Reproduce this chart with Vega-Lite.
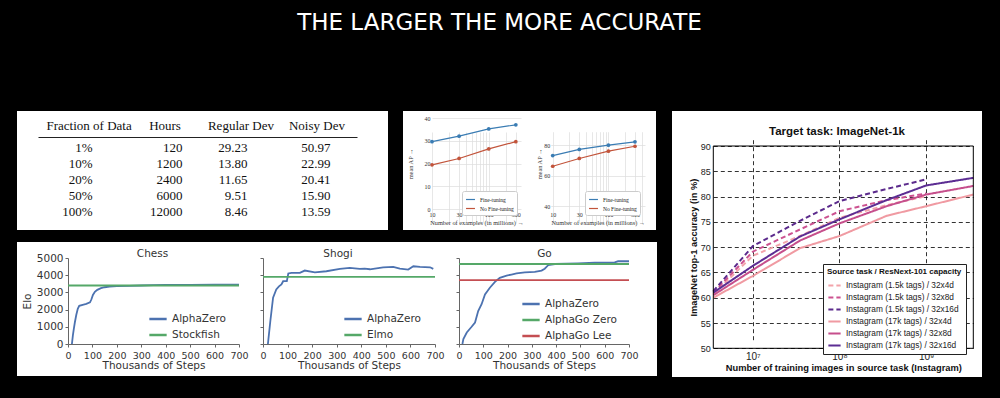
{
  "$schema": "https://vega.github.io/schema/vega-lite/v6.json",
  "background": "black",
  "padding": {"left": 17, "top": 12, "right": 18, "bottom": 22},
  "title": {"text": "THE LARGER THE MORE ACCURATE", "color": "white", "font": "DejaVu Sans", "fontSize": 23, "fontWeight": "normal", "anchor": "middle", "frame": "bounds", "offset": 76},
  "config": {
    "view": {"stroke": null, "fill": "white"},
    "font": "DejaVu Sans",
    "axis": {"labelFont": "DejaVu Sans", "labelFontSize": 10.5, "labelColor": "#333", "titleFont": "DejaVu Sans", "titleFontSize": 10.5, "titleFontWeight": "normal", "titleColor": "#333", "domainColor": "#666", "tickColor": "#666", "tickSize": 3, "grid": false, "labelPadding": 3, "titlePadding": 2, "labelOverlap": false, "labelFlush": false},
    "legend": {"labelFont": "DejaVu Sans", "labelColor": "#333"}
  },
  "resolve": {"scale": {"color": "independent", "strokeDash": "independent"}},
  "spacing": 15,
  "hconcat": [
    {
      "spacing": 12,
      "resolve": {"scale": {"color": "independent", "strokeDash": "independent"}},
      "vconcat": [
        {
          "spacing": 15,
          "resolve": {"scale": {"color": "independent"}},
          "hconcat": [
            {
              "width": 371,
              "height": 119,
              "data": {"values": [
                {"frac": "1%", "hours": "120", "reg": "29.23", "noisy": "50.97"},
                {"frac": "10%", "hours": "1200", "reg": "13.80", "noisy": "22.99"},
                {"frac": "20%", "hours": "2400", "reg": "11.65", "noisy": "20.41"},
                {"frac": "50%", "hours": "6000", "reg": "9.51", "noisy": "15.90"},
                {"frac": "100%", "hours": "12000", "reg": "8.46", "noisy": "13.59"}
              ]},
              "encoding": {"y": {"field": "frac", "type": "ordinal", "sort": null, "axis": null, "scale": {"type": "point", "range": [37, 101], "padding": 0}}},
              "layer": [
                {"mark": {"type": "text", "align": "right", "baseline": "middle", "dx": 9, "font": "Liberation Serif", "fontSize": 13, "color": "#111"},
                 "encoding": {"x": {"datum": "Fraction of Data", "type": "nominal", "scale": {"type": "point", "domain": ["Fraction of Data", "Hours", "Regular Dev", "Noisy Dev"], "range": [21, 340], "padding": 0.6},
                   "axis": {"orient": "top", "offset": -26, "title": null, "ticks": false, "domainColor": "#222", "domainWidth": 1, "labelFont": "Liberation Serif", "labelFontSize": 13, "labelColor": "#111", "labelAngle": 0, "labelPadding": 5, "labelOffset": 5}},
                   "text": {"field": "frac"}}},
                {"mark": {"type": "text", "align": "right", "baseline": "middle", "dx": 23, "font": "Liberation Serif", "fontSize": 13, "color": "#111"},
                 "encoding": {"x": {"datum": "Hours", "type": "nominal"}, "text": {"field": "hours"}}},
                {"mark": {"type": "text", "align": "right", "baseline": "middle", "dx": 12, "font": "Liberation Serif", "fontSize": 13, "color": "#111"},
                 "encoding": {"x": {"datum": "Regular Dev", "type": "nominal"}, "text": {"field": "reg"}}},
                {"mark": {"type": "text", "align": "right", "baseline": "middle", "dx": 19, "font": "Liberation Serif", "fontSize": 13, "color": "#111"},
                 "encoding": {"x": {"datum": "Noisy Dev", "type": "nominal"}, "text": {"field": "noisy"}}}
              ]
            },
            {
              "spacing": 0,
              "resolve": {"scale": {"color": "independent"}},
              "hconcat": [
                {
                  "width": 132,
                  "height": 119,
                  "data": {"values": [
                    {"s": "Fine-tuning", "n": 10, "ap": 29.6}, {"s": "Fine-tuning", "n": 30, "ap": 32.0}, {"s": "Fine-tuning", "n": 100, "ap": 35.2}, {"s": "Fine-tuning", "n": 300, "ap": 37.0},
                    {"s": "No Fine-tuning", "n": 10, "ap": 19.4}, {"s": "No Fine-tuning", "n": 30, "ap": 22.2}, {"s": "No Fine-tuning", "n": 100, "ap": 26.4}, {"s": "No Fine-tuning", "n": 300, "ap": 29.6}
                  ]},
                  "mark": {"type": "line", "point": {"filled": true, "size": 14}, "strokeWidth": 1.2},
                  "encoding": {
                    "x": {"field": "n", "type": "quantitative", "scale": {"type": "log", "domain": [10, 370], "rangeMin": 29, "rangeMax": 118, "nice": false},
                      "axis": {"offset": -21, "values": [10, 20, 30, 40, 50, 60, 70, 80, 90, 100, 200, 300], "format": "d", "labelExpr": "datum.value == 10 || datum.value == 30 || datum.value == 100 || datum.value == 300 ? datum.label : ''", "domain": false, "ticks": false, "grid": true, "gridColor": "#ddd", "gridWidth": 0.7, "labelFont": "Liberation Serif", "labelFontSize": 6, "labelPadding": 2, "title": "Number of examples (in millions) →", "titleFont": "Liberation Serif", "titleFontSize": 6.3, "titlePadding": 2}},
                    "y": {"field": "ap", "type": "quantitative", "scale": {"domain": [0, 40], "rangeMin": 98, "rangeMax": 7, "nice": false, "zero": false},
                      "axis": {"offset": -29, "values": [0, 10, 20, 30, 40], "domain": false, "ticks": false, "grid": true, "gridColor": "#ddd", "gridWidth": 0.7, "labelFont": "Liberation Serif", "labelFontSize": 6, "labelPadding": 2, "title": "mean AP →", "titleFont": "Liberation Serif", "titleFontSize": 6.3, "titlePadding": 11}},
                    "color": {"field": "s", "type": "nominal", "scale": {"domain": ["Fine-tuning", "No Fine-tuning"], "range": ["#3a7cb3", "#c2543b"]},
                      "legend": {"orient": "none", "legendX": 59, "legendY": 80, "title": null, "fillColor": "white", "strokeColor": "#ccc", "padding": 3, "cornerRadius": 2, "labelFont": "Liberation Serif", "labelFontSize": 5.5, "labelColor": "#222", "symbolType": "stroke", "symbolSize": 80, "symbolStrokeWidth": 1.2, "rowPadding": 0}}
                  }
                },
                {
                  "width": 121,
                  "height": 119,
                  "data": {"values": [
                    {"s": "Fine-tuning", "n": 10, "ap": 73.2}, {"s": "Fine-tuning", "n": 30, "ap": 77.2}, {"s": "Fine-tuning", "n": 100, "ap": 80.0}, {"s": "Fine-tuning", "n": 300, "ap": 82.2},
                    {"s": "No Fine-tuning", "n": 10, "ap": 66.2}, {"s": "No Fine-tuning", "n": 30, "ap": 71.3}, {"s": "No Fine-tuning", "n": 100, "ap": 76.1}, {"s": "No Fine-tuning", "n": 300, "ap": 79.3}
                  ]},
                  "mark": {"type": "line", "point": {"filled": true, "size": 14}, "strokeWidth": 1.2},
                  "encoding": {
                    "x": {"field": "n", "type": "quantitative", "scale": {"type": "log", "domain": [9.2, 454], "rangeMin": 15.7, "rangeMax": 110, "nice": false},
                      "axis": {"offset": -20.7, "values": [10, 20, 30, 40, 50, 60, 70, 80, 90, 100, 200, 300, 400], "format": "d", "labelExpr": "datum.value == 10 || datum.value == 30 || datum.value == 100 || datum.value == 300 ? datum.label : ''", "domain": false, "ticks": false, "grid": true, "gridColor": "#ddd", "gridWidth": 0.7, "labelFont": "Liberation Serif", "labelFontSize": 6, "labelPadding": 2, "title": "Number of examples (in millions) →", "titleFont": "Liberation Serif", "titleFontSize": 6.3, "titlePadding": 2}},
                    "y": {"field": "ap", "type": "quantitative", "scale": {"domain": [38, 98], "rangeMin": 98.3, "rangeMax": 6.7, "nice": false, "zero": false},
                      "axis": {"offset": -15.7, "values": [40, 60, 80], "domain": false, "ticks": false, "grid": true, "gridColor": "#ddd", "gridWidth": 0.7, "labelFont": "Liberation Serif", "labelFontSize": 6, "labelPadding": 1, "title": "mean AP →", "titleFont": "Liberation Serif", "titleFontSize": 6.3, "titlePadding": 1.5}},
                    "color": {"field": "s", "type": "nominal", "scale": {"domain": ["Fine-tuning", "No Fine-tuning"], "range": ["#3a7cb3", "#c2543b"]},
                      "legend": {"orient": "none", "legendX": 50, "legendY": 80, "title": null, "fillColor": "white", "strokeColor": "#ccc", "padding": 3, "cornerRadius": 2, "labelFont": "Liberation Serif", "labelFontSize": 5.5, "labelColor": "#222", "symbolType": "stroke", "symbolSize": 80, "symbolStrokeWidth": 1.2, "rowPadding": 0}}
                  }
                }
              ]
            }
          ]
        },
        {
          "spacing": 0,
          "resolve": {"scale": {"color": "independent"}},
          "hconcat": [
            {
              "width": 233,
              "height": 134,
              "title": {"text": "Chess", "font": "DejaVu Sans", "fontSize": 10.5, "fontWeight": "normal", "color": "#333", "offset": -17, "dx": 19},
              "data": {"values": [
                {"p": "AlphaZero", "s": 16, "e": 0}, {"p": "AlphaZero", "s": 20, "e": 500}, {"p": "AlphaZero", "s": 24, "e": 900}, {"p": "AlphaZero", "s": 28, "e": 1250},
                {"p": "AlphaZero", "s": 34, "e": 1700}, {"p": "AlphaZero", "s": 40, "e": 2050}, {"p": "AlphaZero", "s": 46, "e": 2220}, {"p": "AlphaZero", "s": 60, "e": 2280},
                {"p": "AlphaZero", "s": 75, "e": 2330}, {"p": "AlphaZero", "s": 90, "e": 2420}, {"p": "AlphaZero", "s": 96, "e": 2600}, {"p": "AlphaZero", "s": 102, "e": 2850},
                {"p": "AlphaZero", "s": 110, "e": 3030}, {"p": "AlphaZero", "s": 120, "e": 3150}, {"p": "AlphaZero", "s": 135, "e": 3250}, {"p": "AlphaZero", "s": 150, "e": 3300},
                {"p": "AlphaZero", "s": 170, "e": 3330}, {"p": "AlphaZero", "s": 200, "e": 3360}, {"p": "AlphaZero", "s": 250, "e": 3380}, {"p": "AlphaZero", "s": 300, "e": 3400},
                {"p": "AlphaZero", "s": 350, "e": 3420}, {"p": "AlphaZero", "s": 400, "e": 3430}, {"p": "AlphaZero", "s": 500, "e": 3440}, {"p": "AlphaZero", "s": 600, "e": 3445},
                {"p": "AlphaZero", "s": 700, "e": 3450},
                {"p": "Stockfish", "s": 0, "e": 3400}, {"p": "Stockfish", "s": 700, "e": 3400}
              ]},
              "mark": {"type": "line", "strokeWidth": 1.8},
              "encoding": {
                "x": {"field": "s", "type": "quantitative", "scale": {"domain": [0, 700], "rangeMin": 51, "rangeMax": 222, "nice": false},
                  "axis": {"offset": -32, "values": [0, 100, 200, 300, 400, 500, 600, 700], "format": "d", "labelFontSize": 9.5, "title": "Thousands of Steps", "titlePadding": 1}},
                "y": {"field": "e", "type": "quantitative", "scale": {"domain": [0, 5000], "rangeMin": 102, "rangeMax": 16, "nice": false},
                  "axis": {"offset": -51, "values": [0, 1000, 2000, 3000, 4000, 5000], "format": "d", "title": "Elo", "labelPadding": 2, "titlePadding": 4}},
                "color": {"field": "p", "type": "nominal", "scale": {"domain": ["AlphaZero", "Stockfish"], "range": ["#4c72b0", "#55a868"]},
                  "legend": {"orient": "none", "legendX": 131, "legendY": 67, "title": null, "symbolType": "stroke", "symbolSize": 300, "symbolStrokeWidth": 2.5, "labelFontSize": 10.5, "rowPadding": 0}}
              }
            },
            {
              "width": 196,
              "height": 134,
              "title": {"text": "Shogi", "font": "DejaVu Sans", "fontSize": 10.5, "fontWeight": "normal", "color": "#333", "offset": -17, "dx": -10},
              "data": {"values": [
                {"p": "AlphaZero", "s": 20, "e": 0}, {"p": "AlphaZero", "s": 30, "e": 1350}, {"p": "AlphaZero", "s": 41, "e": 2690}, {"p": "AlphaZero", "s": 54, "e": 3170},
                {"p": "AlphaZero", "s": 65, "e": 3350}, {"p": "AlphaZero", "s": 75, "e": 3460}, {"p": "AlphaZero", "s": 82, "e": 3650}, {"p": "AlphaZero", "s": 97, "e": 3650},
                {"p": "AlphaZero", "s": 103, "e": 4100}, {"p": "AlphaZero", "s": 116, "e": 4140}, {"p": "AlphaZero", "s": 150, "e": 4140}, {"p": "AlphaZero", "s": 170, "e": 4270},
                {"p": "AlphaZero", "s": 211, "e": 4170}, {"p": "AlphaZero", "s": 258, "e": 4230}, {"p": "AlphaZero", "s": 313, "e": 4365}, {"p": "AlphaZero", "s": 353, "e": 4420},
                {"p": "AlphaZero", "s": 394, "e": 4365}, {"p": "AlphaZero", "s": 414, "e": 4385}, {"p": "AlphaZero", "s": 435, "e": 4345}, {"p": "AlphaZero", "s": 489, "e": 4460},
                {"p": "AlphaZero", "s": 530, "e": 4480}, {"p": "AlphaZero", "s": 557, "e": 4385}, {"p": "AlphaZero", "s": 591, "e": 4330}, {"p": "AlphaZero", "s": 612, "e": 4520},
                {"p": "AlphaZero", "s": 639, "e": 4480}, {"p": "AlphaZero", "s": 680, "e": 4460}, {"p": "AlphaZero", "s": 693, "e": 4365},
                {"p": "Elmo", "s": 0, "e": 3900}, {"p": "Elmo", "s": 700, "e": 3900}
              ]},
              "mark": {"type": "line", "strokeWidth": 1.8},
              "encoding": {
                "x": {"field": "s", "type": "quantitative", "scale": {"domain": [0, 700], "rangeMin": 13, "rangeMax": 185, "nice": false},
                  "axis": {"offset": -32, "values": [0, 100, 200, 300, 400, 500, 600, 700], "format": "d", "labelFontSize": 9.5, "title": "Thousands of Steps", "titlePadding": 1}},
                "y": {"field": "e", "type": "quantitative", "scale": {"domain": [0, 5000], "rangeMin": 102, "rangeMax": 16, "nice": false},
                  "axis": {"offset": -13, "values": [0, 1000, 2000, 3000, 4000, 5000], "labels": false, "title": null}},
                "color": {"field": "p", "type": "nominal", "scale": {"domain": ["AlphaZero", "Elmo"], "range": ["#4c72b0", "#55a868"]},
                  "legend": {"orient": "none", "legendX": 93, "legendY": 67, "title": null, "symbolType": "stroke", "symbolSize": 300, "symbolStrokeWidth": 2.5, "labelFontSize": 10.5, "rowPadding": 0}}
              }
            },
            {
              "width": 211,
              "height": 134,
              "title": {"text": "Go", "font": "DejaVu Sans", "fontSize": 10.5, "fontWeight": "normal", "color": "#333", "offset": -17, "dx": -7},
              "data": {"values": [
                {"p": "AlphaZero", "s": 14, "e": 0}, {"p": "AlphaZero", "s": 18, "e": 290}, {"p": "AlphaZero", "s": 32, "e": 670}, {"p": "AlphaZero", "s": 52, "e": 1000},
                {"p": "AlphaZero", "s": 66, "e": 1250}, {"p": "AlphaZero", "s": 79, "e": 1920}, {"p": "AlphaZero", "s": 93, "e": 2310}, {"p": "AlphaZero", "s": 107, "e": 2880},
                {"p": "AlphaZero", "s": 127, "e": 3270}, {"p": "AlphaZero", "s": 148, "e": 3610}, {"p": "AlphaZero", "s": 168, "e": 3850}, {"p": "AlphaZero", "s": 196, "e": 3980},
                {"p": "AlphaZero", "s": 216, "e": 4040}, {"p": "AlphaZero", "s": 237, "e": 4100}, {"p": "AlphaZero", "s": 271, "e": 4170}, {"p": "AlphaZero", "s": 312, "e": 4190},
                {"p": "AlphaZero", "s": 340, "e": 4270}, {"p": "AlphaZero", "s": 353, "e": 4380}, {"p": "AlphaZero", "s": 367, "e": 4580}, {"p": "AlphaZero", "s": 395, "e": 4650},
                {"p": "AlphaZero", "s": 490, "e": 4690}, {"p": "AlphaZero", "s": 559, "e": 4730}, {"p": "AlphaZero", "s": 641, "e": 4750}, {"p": "AlphaZero", "s": 655, "e": 4810},
                {"p": "AlphaZero", "s": 700, "e": 4810},
                {"p": "AlphaGo Zero", "s": 0, "e": 4650}, {"p": "AlphaGo Zero", "s": 700, "e": 4650},
                {"p": "AlphaGo Lee", "s": 0, "e": 3710}, {"p": "AlphaGo Lee", "s": 700, "e": 3710}
              ]},
              "mark": {"type": "line", "strokeWidth": 1.8},
              "encoding": {
                "x": {"field": "s", "type": "quantitative", "scale": {"domain": [0, 700], "rangeMin": 13, "rangeMax": 183, "nice": false},
                  "axis": {"offset": -32, "values": [0, 100, 200, 300, 400, 500, 600, 700], "format": "d", "labelFontSize": 9.5, "title": "Thousands of Steps", "titlePadding": 1}},
                "y": {"field": "e", "type": "quantitative", "scale": {"domain": [0, 5000], "rangeMin": 102, "rangeMax": 16, "nice": false},
                  "axis": {"offset": -13, "values": [0, 1000, 2000, 3000, 4000, 5000], "labels": false, "title": null}},
                "color": {"field": "p", "type": "nominal", "scale": {"domain": ["AlphaZero", "AlphaGo Zero", "AlphaGo Lee"], "range": ["#4c72b0", "#55a868", "#c44e52"]},
                  "legend": {"orient": "none", "legendX": 75, "legendY": 52, "title": null, "symbolType": "stroke", "symbolSize": 300, "symbolStrokeWidth": 2.5, "labelFontSize": 10.5, "rowPadding": 0}}
              }
            }
          ]
        }
      ]
    },
    {
      "width": 310,
      "height": 266,
      "title": {"text": "Target task: ImageNet-1k", "font": "Liberation Sans", "fontSize": 11.5, "fontWeight": "bold", "color": "#111", "offset": -26, "dx": 10},
      "layer": [
        {
          "data": {"values": [
            {"s": "Instagram (1.5k tags) / 32x4d", "n": 3500000, "a": 60.7}, {"s": "Instagram (1.5k tags) / 32x4d", "n": 10000000, "a": 68.3}, {"s": "Instagram (1.5k tags) / 32x4d", "n": 35000000, "a": 72.2}, {"s": "Instagram (1.5k tags) / 32x4d", "n": 100000000, "a": 75.8}, {"s": "Instagram (1.5k tags) / 32x4d", "n": 350000000, "a": 78.3}, {"s": "Instagram (1.5k tags) / 32x4d", "n": 1000000000, "a": 80.1},
            {"s": "Instagram (1.5k tags) / 32x8d", "n": 3500000, "a": 61.0}, {"s": "Instagram (1.5k tags) / 32x8d", "n": 10000000, "a": 69.1}, {"s": "Instagram (1.5k tags) / 32x8d", "n": 35000000, "a": 73.5}, {"s": "Instagram (1.5k tags) / 32x8d", "n": 100000000, "a": 77.1}, {"s": "Instagram (1.5k tags) / 32x8d", "n": 350000000, "a": 79.3}, {"s": "Instagram (1.5k tags) / 32x8d", "n": 1000000000, "a": 80.6},
            {"s": "Instagram (1.5k tags) / 32x16d", "n": 3500000, "a": 61.3}, {"s": "Instagram (1.5k tags) / 32x16d", "n": 10000000, "a": 70.2}, {"s": "Instagram (1.5k tags) / 32x16d", "n": 35000000, "a": 75.2}, {"s": "Instagram (1.5k tags) / 32x16d", "n": 100000000, "a": 79.1}, {"s": "Instagram (1.5k tags) / 32x16d", "n": 350000000, "a": 81.5}, {"s": "Instagram (1.5k tags) / 32x16d", "n": 1000000000, "a": 83.4},
            {"s": "Instagram (17k tags) / 32x4d", "n": 3500000, "a": 60.0}, {"s": "Instagram (17k tags) / 32x4d", "n": 10000000, "a": 64.3}, {"s": "Instagram (17k tags) / 32x4d", "n": 35000000, "a": 69.8}, {"s": "Instagram (17k tags) / 32x4d", "n": 100000000, "a": 72.2}, {"s": "Instagram (17k tags) / 32x4d", "n": 350000000, "a": 76.2}, {"s": "Instagram (17k tags) / 32x4d", "n": 1000000000, "a": 78.1}, {"s": "Instagram (17k tags) / 32x4d", "n": 3500000000, "a": 80.4},
            {"s": "Instagram (17k tags) / 32x8d", "n": 3500000, "a": 60.5}, {"s": "Instagram (17k tags) / 32x8d", "n": 10000000, "a": 65.5}, {"s": "Instagram (17k tags) / 32x8d", "n": 35000000, "a": 71.3}, {"s": "Instagram (17k tags) / 32x8d", "n": 100000000, "a": 74.7}, {"s": "Instagram (17k tags) / 32x8d", "n": 350000000, "a": 78.1}, {"s": "Instagram (17k tags) / 32x8d", "n": 1000000000, "a": 80.4}, {"s": "Instagram (17k tags) / 32x8d", "n": 3500000000, "a": 82.1},
            {"s": "Instagram (17k tags) / 32x16d", "n": 3500000, "a": 61.0}, {"s": "Instagram (17k tags) / 32x16d", "n": 10000000, "a": 66.3}, {"s": "Instagram (17k tags) / 32x16d", "n": 35000000, "a": 72.1}, {"s": "Instagram (17k tags) / 32x16d", "n": 100000000, "a": 75.5}, {"s": "Instagram (17k tags) / 32x16d", "n": 350000000, "a": 79.3}, {"s": "Instagram (17k tags) / 32x16d", "n": 1000000000, "a": 82.2}, {"s": "Instagram (17k tags) / 32x16d", "n": 3500000000, "a": 83.7}
          ]},
          "mark": {"type": "line", "strokeWidth": 2},
          "encoding": {
            "x": {"field": "n", "type": "quantitative", "scale": {"type": "log", "domain": [3500000, 3500000000], "rangeMin": 41.3, "rangeMax": 301.3, "nice": false},
              "axis": {"offset": -28.7, "values": [10000000, 100000000, 1000000000], "labelExpr": "datum.value == 10000000 ? '10⁷' : datum.value == 100000000 ? '10⁸' : '10⁹'", "grid": true, "gridColor": "#000", "gridDash": [4, 3], "gridOpacity": 0.8, "domain": false, "ticks": false, "labelFont": "Liberation Sans", "labelFontSize": 10, "labelColor": "#222", "labelPadding": 3, "title": "Number of training images in source task (Instagram)", "titleFont": "Liberation Sans", "titleFontSize": 9.3, "titleFontWeight": "bold", "titleColor": "#111", "titlePadding": 2}},
            "y": {"field": "a", "type": "quantitative", "scale": {"domain": [50, 90], "rangeMin": 237.3, "rangeMax": 35, "nice": false, "zero": false},
              "axis": {"offset": -41.3, "values": [50, 55, 60, 65, 70, 75, 80, 85, 90], "grid": true, "gridColor": "#000", "gridDash": [4, 3], "gridOpacity": 0.8, "domain": false, "ticks": false, "labelFont": "Liberation Sans", "labelFontSize": 9, "labelColor": "#222", "labelPadding": 3, "title": "ImageNet top-1 accuracy (in %)", "titleFont": "Liberation Sans", "titleFontSize": 9.3, "titleFontWeight": "bold", "titleColor": "#111", "titlePadding": 2}},
            "color": {"field": "s", "type": "nominal", "sort": null,
              "scale": {"domain": ["Instagram (1.5k tags) / 32x4d", "Instagram (1.5k tags) / 32x8d", "Instagram (1.5k tags) / 32x16d", "Instagram (17k tags) / 32x4d", "Instagram (17k tags) / 32x8d", "Instagram (17k tags) / 32x16d"], "range": ["#f3a3aa", "#cc5290", "#5b2a8c", "#f09aa2", "#c64f8c", "#5c2d93"]},
              "legend": {"orient": "none", "legendX": 151, "legendY": 153, "title": "Source task / ResNext-101 capacity", "titleFont": "Liberation Sans", "titleFontSize": 8, "titleFontWeight": "bold", "titleColor": "#111", "titlePadding": 2, "labelFont": "Liberation Sans", "labelFontSize": 8.3, "labelColor": "#222", "symbolType": "stroke", "symbolSize": 150, "symbolStrokeWidth": 2, "rowPadding": 0, "padding": 4, "strokeColor": "#222", "fillColor": "white"}},
            "strokeDash": {"field": "s", "type": "nominal", "sort": null,
              "scale": {"domain": ["Instagram (1.5k tags) / 32x4d", "Instagram (1.5k tags) / 32x8d", "Instagram (1.5k tags) / 32x16d", "Instagram (17k tags) / 32x4d", "Instagram (17k tags) / 32x8d", "Instagram (17k tags) / 32x16d"], "range": [[5, 3], [5, 3], [5, 3], [1, 0], [1, 0], [1, 0]]},
              "legend": {"orient": "none", "legendX": 151, "legendY": 153, "title": "Source task / ResNext-101 capacity", "titleFont": "Liberation Sans", "titleFontSize": 8, "titleFontWeight": "bold", "titleColor": "#111", "titlePadding": 2, "labelFont": "Liberation Sans", "labelFontSize": 8.3, "labelColor": "#222", "symbolType": "stroke", "symbolSize": 150, "symbolStrokeWidth": 2, "rowPadding": 0, "padding": 4, "strokeColor": "#222", "fillColor": "white"}}
          }
        },
        {
          "data": {"values": [{}]},
          "mark": {"type": "rect", "fillOpacity": 0, "stroke": "black", "strokeWidth": 1},
          "encoding": {
            "x": {"datum": 3500000, "type": "quantitative", "scale": {"type": "log", "domain": [3500000, 3500000000], "rangeMin": 41.3, "rangeMax": 301.3, "nice": false},
              "axis": {"offset": -28.7, "values": [10000000, 100000000, 1000000000], "labelExpr": "datum.value == 10000000 ? '10⁷' : datum.value == 100000000 ? '10⁸' : '10⁹'", "grid": true, "gridColor": "#000", "gridDash": [4, 3], "gridOpacity": 0.8, "domain": false, "ticks": false, "labelFont": "Liberation Sans", "labelFontSize": 10, "labelColor": "#222", "labelPadding": 3, "title": "Number of training images in source task (Instagram)", "titleFont": "Liberation Sans", "titleFontSize": 9.3, "titleFontWeight": "bold", "titleColor": "#111", "titlePadding": 2}},
            "x2": {"datum": 3500000000},
            "y": {"datum": 50, "type": "quantitative", "scale": {"domain": [50, 90], "rangeMin": 237.3, "rangeMax": 35, "nice": false, "zero": false},
              "axis": {"offset": -41.3, "values": [50, 55, 60, 65, 70, 75, 80, 85, 90], "grid": true, "gridColor": "#000", "gridDash": [4, 3], "gridOpacity": 0.8, "domain": false, "ticks": false, "labelFont": "Liberation Sans", "labelFontSize": 9, "labelColor": "#222", "labelPadding": 3, "title": "ImageNet top-1 accuracy (in %)", "titleFont": "Liberation Sans", "titleFontSize": 9.3, "titleFontWeight": "bold", "titleColor": "#111", "titlePadding": 2}},
            "y2": {"datum": 90}
          }
        }
      ]
    }
  ]
}
